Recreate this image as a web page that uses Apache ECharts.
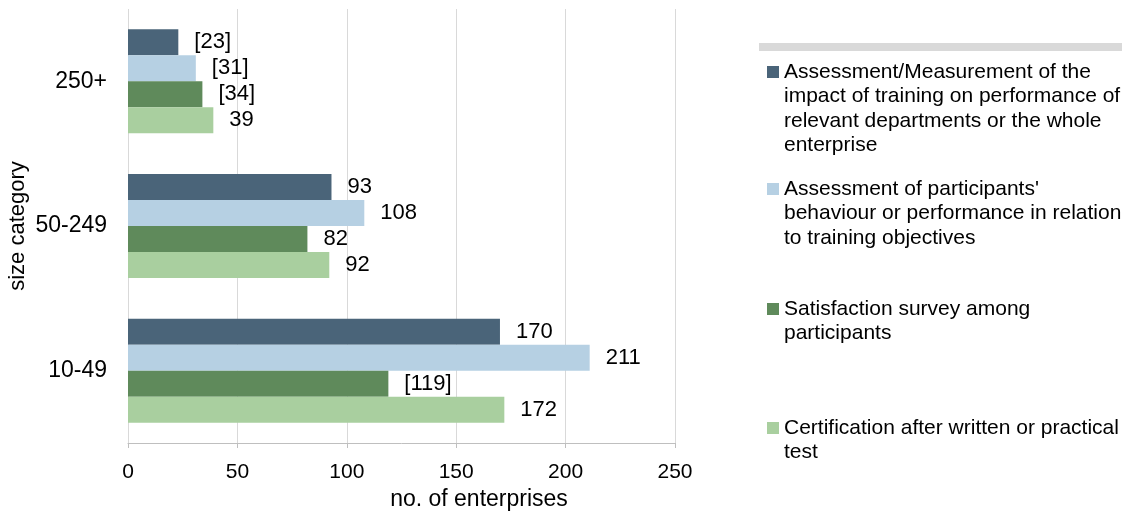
<!DOCTYPE html>
<html>
<head>
<meta charset="utf-8">
<script src="https://cdn.jsdelivr.net/npm/echarts@6/dist/echarts.min.js"></script>
<style>
  html, body { margin: 0; padding: 0; background: #fff; }
  #chart { width: 1132px; height: 518px; }
</style>
</head>
<body>
<div id="chart"></div>
<script>
// size categories, bottom to top
const categories = ['10-49', '50-249', '250+']

const measurement = [170, 93, 23]
const behaviour = [211, 108, 31]
const satisfaction = [119, 82, 34]
const certification = [172, 92, 39]

// values printed in brackets in the source
const measurementBracket = [false, false, true]
const behaviourBracket = [false, false, true]
const satisfactionBracket = [true, false, true]
const certificationBracket = [false, false, false]

const xTicks = [0, 50, 100, 150, 200, 250]

const seriesNames = [
  'Assessment/Measurement of the impact of training on performance of relevant departments or the whole enterprise',
  'Assessment of participants\' behaviour or performance in relation to training objectives',
  'Satisfaction survey among participants',
  'Certification after written or practical test'
]
const legendLines = [
  ['Assessment/Measurement of the', 'impact of training on performance of', 'relevant departments or the whole', 'enterprise'],
  ['Assessment of participants\'', 'behaviour or performance in relation', 'to training objectives'],
  ['Satisfaction survey among', 'participants'],
  ['Certification after written or practical', 'test']
]
const colors = ['#4a6479', '#b6d0e3', '#5f8a5b', '#a9cf9f']

const FONT = '"Liberation Sans", Arial, sans-serif'
const chart = echarts.init(document.getElementById('chart'))

function makeSeries(name, values, brackets, color) {
  return {
    name: name,
    type: 'bar',
    barWidth: 26,
    barGap: '0%',
    itemStyle: { color: color },
    label: {
      show: true,
      position: 'right',
      distance: 16,
      color: '#000',
      fontSize: 22,
      fontFamily: FONT,
      formatter: function(p) {
        return brackets[p.dataIndex] ? '[' + p.value + ']' : String(p.value)
      }
    },
    data: values
  }
}

// one legend per item; blank lines on top keep the icon level with the first text line
const LH = 24.5
const firstLineY = [72, 189, 309, 428]
const legends = seriesNames.map(function(name, i) {
  const n = legendLines[i].length
  return {
    data: [name],
    left: 767,
    top: firstLineY[i] - (2 * n - 1) * LH / 2,
    orient: 'vertical',
    padding: 0,
    icon: 'rect',
    itemWidth: 12,
    itemHeight: 12,
    selectedMode: false,
    formatter: function() {
      return '\n'.repeat(n - 1) + legendLines[i].join('\n')
    },
    textStyle: {
      fontSize: 21,
      fontFamily: FONT,
      color: '#000',
      lineHeight: LH
    }
  }
})

chart.setOption({
  animation: false,
  textStyle: { fontFamily: FONT },
  grid: {
    left: 128,
    right: 457,
    top: 9,
    bottom: 75,
    containLabel: false
  },
  legend: legends,
  graphic: [{
    type: 'rect',
    left: 759,
    top: 43,
    shape: { width: 363, height: 8 },
    style: { fill: '#d9d9d9' }
  }],
  xAxis: {
    type: 'value',
    min: xTicks[0],
    max: xTicks[xTicks.length - 1],
    interval: 50,
    name: 'no. of enterprises',
    nameLocation: 'middle',
    nameGap: 45,
    nameTextStyle: {
      fontSize: 23,
      color: '#000',
      fontFamily: FONT,
      padding: [0, 0, 0, 155]
    },
    axisLine: { show: true, lineStyle: { color: '#bfbfbf', width: 1 } },
    axisTick: { show: true, length: 5, lineStyle: { color: '#bfbfbf' } },
    axisLabel: { fontSize: 21, color: '#000', margin: 19, fontFamily: FONT },
    splitLine: { show: true, lineStyle: { color: '#d9d9d9', width: 1 } }
  },
  yAxis: {
    type: 'category',
    data: categories,
    name: 'size category',
    nameLocation: 'middle',
    nameGap: 99,
    nameTextStyle: { fontSize: 22, color: '#000', fontFamily: FONT },
    axisLine: { show: false },
    axisTick: { show: false },
    axisLabel: { fontSize: 23, color: '#000', margin: 21, fontFamily: FONT }
  },
  series: [
    makeSeries(seriesNames[0], measurement, measurementBracket, colors[0]),
    makeSeries(seriesNames[1], behaviour, behaviourBracket, colors[1]),
    makeSeries(seriesNames[2], satisfaction, satisfactionBracket, colors[2]),
    makeSeries(seriesNames[3], certification, certificationBracket, colors[3])
  ]
})
</script>
</body>
</html>
